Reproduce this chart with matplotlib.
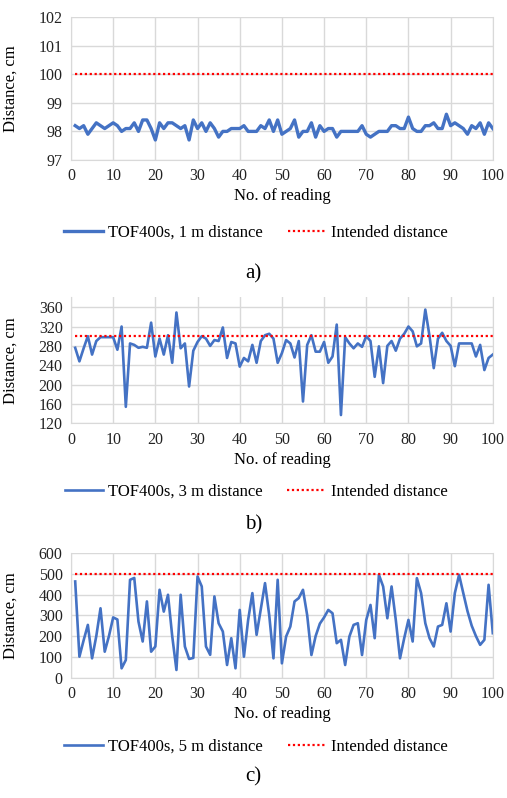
import numpy as np
import matplotlib
matplotlib.use('Agg')
import matplotlib.pyplot as plt

plt.rcParams['font.family'] = ['Liberation Serif', 'DejaVu Serif']

# readings 1..100 for each sensor distance
readings = np.arange(1, 101)

dist_1m = [
    98.2, 98.1, 98.2, 97.9, 98.1, 98.3, 98.2, 98.1, 98.2, 98.3,
    98.2, 98.0, 98.1, 98.1, 98.3, 98.0, 98.4, 98.4, 98.1, 97.7,
    98.3, 98.1, 98.3, 98.3, 98.2, 98.1, 98.2, 97.7, 98.4, 98.1,
    98.3, 98.0, 98.3, 98.1, 97.8, 98.0, 98.0, 98.1, 98.1, 98.1,
    98.2, 98.0, 98.0, 98.0, 98.2, 98.1, 98.4, 98.0, 98.4, 97.9,
    98.0, 98.1, 98.4, 97.8, 98.0, 98.0, 98.3, 97.8, 98.2, 98.0,
    98.1, 98.1, 97.8, 98.0, 98.0, 98.0, 98.0, 98.0, 98.2, 97.9,
    97.8, 97.9, 98.0, 98.0, 98.0, 98.2, 98.2, 98.1, 98.1, 98.5,
    98.1, 98.0, 98.0, 98.2, 98.2, 98.3, 98.1, 98.1, 98.6, 98.2,
    98.3, 98.2, 98.1, 97.9, 98.2, 98.1, 98.3, 97.9, 98.3, 98.1,
]

dist_3m = [
    276, 248, 275, 300, 262, 290, 298, 298, 298, 298,
    272, 320, 154, 285, 282, 276, 278, 276, 328, 258,
    295, 262, 302, 245, 349, 275, 285, 196, 270, 288,
    300, 295, 280, 292, 290, 318, 255, 288, 285, 237,
    255, 248, 282, 245, 290, 302, 305, 295, 245, 265,
    292, 285, 256, 290, 165, 282, 302, 268, 268, 288,
    245, 258, 324, 137, 298, 285, 275, 285, 278, 300,
    290, 216, 279, 203, 280, 290, 270, 295, 305, 320,
    310, 279, 285, 355, 300, 234, 295, 307, 290, 280,
    238, 285, 285, 285, 285, 258, 282, 230, 255, 262,
]

dist_5m = [
    463, 101, 180, 254, 93, 200, 334, 125, 200, 290,
    280, 45, 85, 471, 480, 270, 174, 367, 125, 150,
    423, 318, 399, 200, 37, 399, 150, 90, 95, 487,
    439, 150, 110, 391, 262, 222, 61, 190, 45, 326,
    101, 278, 407, 206, 330, 455, 300, 93, 471, 69,
    198, 246, 367, 383, 423, 300, 109, 200, 260, 290,
    326, 310, 166, 182, 61, 198, 254, 262, 109, 278,
    350, 190, 495, 439, 286, 439, 278, 93, 190, 278,
    174, 479, 407, 262, 190, 150, 246, 254, 358, 222,
    407, 495, 407, 320, 250, 200, 158, 182, 447, 214,
]

panels = [
    dict(data=dist_1m, target=100, label='TOF400s, 1 m distance', ylim=(97, 102),
         yticks=[97, 98, 99, 100, 101, 102], tag='a)', lw=2.4,
         rect=[0.140, 0.7995, 0.832, 0.1792], yleg=0.708, ytag=0.657),
    dict(data=dist_3m, target=300, label='TOF400s, 3 m distance', ylim=(120, 380),
         yticks=[120, 160, 200, 240, 280, 320, 360], tag='b)', lw=1.9,
         rect=[0.140, 0.4696, 0.832, 0.1576], yleg=0.384, ytag=0.342),
    dict(data=dist_5m, target=500, label='TOF400s, 5 m distance', ylim=(0, 600),
         yticks=[0, 100, 200, 300, 400, 500, 600], tag='c)', lw=1.9,
         rect=[0.140, 0.1508, 0.832, 0.1562], yleg=0.064, ytag=0.026),
]

blue = '#4472C4'
grid_c = '#D9D9D9'

fig = plt.figure(figsize=(5.07, 7.98), dpi=100)

for p in panels:
    ax = fig.add_axes(p['rect'])
    l1, = ax.plot(readings, p['data'], color=blue, lw=p['lw'], solid_joinstyle='round',
                  label=p['label'])
    l2, = ax.plot([readings[0], readings[-1]], [p['target'], p['target']], color='#FF0000',
                  lw=1.6, ls=(0, (1, 1.2)), label='Intended distance')
    ax.set_xlim(0, 100)
    ax.set_ylim(*p['ylim'])
    ax.set_xticks(range(0, 101, 10))
    ax.set_yticks(p['yticks'])
    ax.grid(True, color=grid_c, lw=1.0)
    ax.set_axisbelow(True)
    for s in ax.spines.values():
        s.set_color(grid_c)
    ax.spines['top'].set_visible(False)
    ax.tick_params(length=0, labelsize=11.5, pad=6, colors='#222222')
    ax.set_ylabel('Distance, cm', fontsize=12)
    ax.yaxis.set_label_coords(-0.125, 0.5)
    ax.set_xlabel('No. of reading', fontsize=12, labelpad=3)
    fig.legend([l1, l2], [p['label'], 'Intended distance'], loc='center',
               bbox_to_anchor=(0.505, p['yleg']), ncol=2, frameon=False, fontsize=12,
               handlelength=2.3, columnspacing=1.5, handletextpad=0.3)
    fig.text(0.5, p['ytag'], p['tag'], ha='center', va='center', fontsize=15)

fig.savefig('out.png', dpi=100)
